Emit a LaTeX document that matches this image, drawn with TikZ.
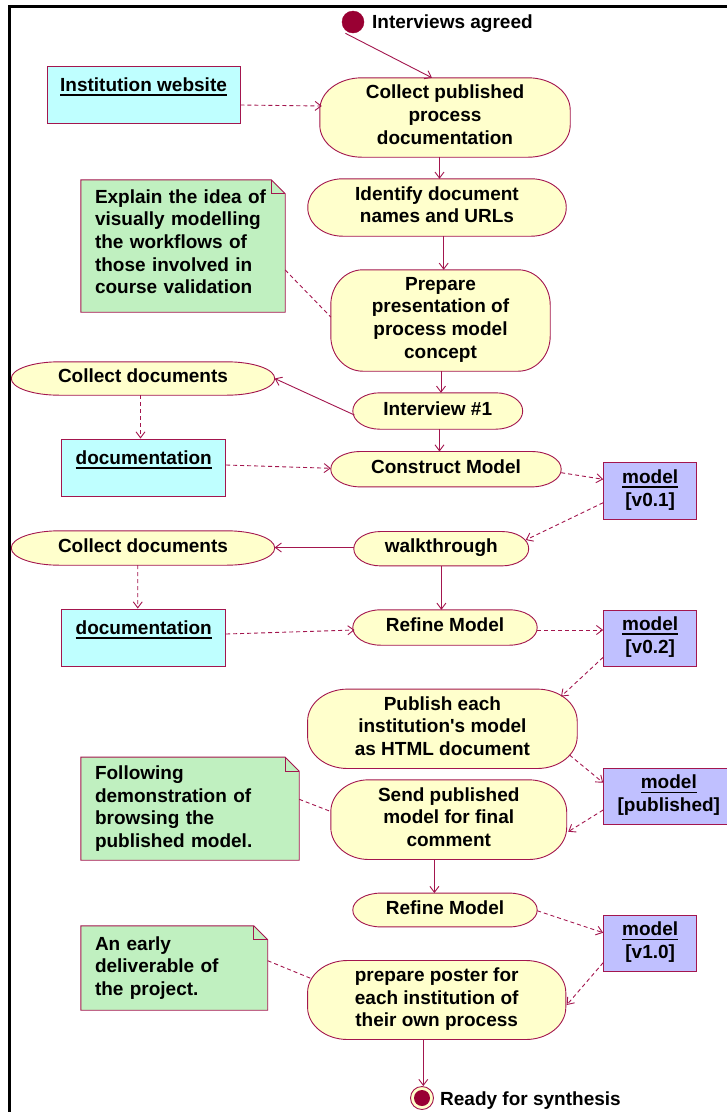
\documentclass[tikz,border=0pt]{standalone}
\usepackage{fontspec}
\setmainfont{Liberation Sans}
\usetikzlibrary{arrows.meta,backgrounds}

\definecolor{edgecol}{RGB}{163,22,78}
\definecolor{actfill}{RGB}{255,255,204}
\definecolor{objfill}{RGB}{191,255,255}
\definecolor{notefill}{RGB}{192,240,192}
\definecolor{modelfill}{RGB}{192,192,255}
\definecolor{dotfill}{RGB}{153,0,51}

% underlined object name with a heavy rule
\newcommand\ulbox[1]{\setbox0\hbox{#1}\leavevmode\rlap{\rule[-4.6pt]{\wd0}{1.9pt}}\box0}

% activity outline: rectangle with elliptical corners (node, x radius, y radius)
\newcommand\actbody[3]{%
  \filldraw[actline] ([xshift=#2pt]#1.north west) -- ([xshift=-#2pt]#1.north east)
    arc[start angle=90, end angle=0, x radius=#2pt, y radius=#3pt]
    -- ([yshift=#3pt]#1.south east)
    arc[start angle=0, end angle=-90, x radius=#2pt, y radius=#3pt]
    -- ([xshift=#2pt]#1.south west)
    arc[start angle=270, end angle=180, x radius=#2pt, y radius=#3pt]
    -- ([yshift=-#3pt]#1.north west)
    arc[start angle=180, end angle=90, x radius=#2pt, y radius=#3pt] -- cycle;}

% note outline with a folded corner (node, fold size)
\newcommand\notebody[2]{%
  \filldraw[noteline] (#1.north west) -- ([xshift=-#2pt]#1.north east)
    -- ([yshift=-#2pt]#1.north east) -- (#1.south east) -- (#1.south west) -- cycle;
  \draw[edgecol, line width=0.8pt] ([xshift=-#2pt]#1.north east)
    -- ([xshift=-#2pt,yshift=-#2pt]#1.north east) -- ([yshift=-#2pt]#1.north east);}

\tikzset{
  every node/.style={font=\fontsize{19}{22.7}\selectfont\bfseries, inner sep=0pt, text=black},
  act/.style={align=center, text depth=5.5pt},
  actline/.style={draw=edgecol, fill=actfill, line width=0.9pt},
  noteline/.style={draw=edgecol, fill=notefill, line width=0.9pt},
  notenode/.style={align=left, inner xsep=14pt},
  objbox/.style={draw=edgecol, fill=objfill, line width=0.9pt},
  objtext/.style={anchor=north, yshift=-11.5pt},
  modelbox/.style={draw=edgecol, fill=modelfill, line width=0.9pt, align=center, text depth=6pt},
  initnode/.style={circle, fill=dotfill, draw=dotfill, minimum size=22pt},
  finalnode/.style={circle, draw=edgecol, fill=actfill, line width=0.9pt, minimum size=23pt},
  flow/.style={draw=edgecol, line width=0.9pt, -{Straight Barb[length=6pt,width=9pt]}},
  dep/.style={flow, dash pattern=on 4pt off 3pt},
  tie/.style={draw=edgecol, line width=0.9pt, dash pattern=on 4pt off 3pt},
}

\begin{document}
\begin{tikzpicture}[x=1pt, y=1pt]
\begin{pgfonlayer}{background}
  \fill[white] (0,0) rectangle (727,-1112);
\end{pgfonlayer}
\useasboundingbox (0,0) rectangle (727,-1112);

% outer frame
\draw[line width=3pt, black, line join=miter] (9.5,-1120) -- (9.5,-6.3) -- (735,-6.3);

% initial state
\node[initnode] (start) at (353,-22) {};
\node[anchor=west] (startlbl) at (372,-24) {Interviews agreed};

% activities
\node[act, minimum width=250pt, minimum height=79pt] (a1) at (445,-117.5) {Collect published\\process\\documentation};
\node[act, minimum width=258pt, minimum height=57pt] (a2) at (437,-207.5) {Identify document\\names and URLs};
\node[act, minimum width=219pt, minimum height=101pt] (a3) at (440.5,-320.5) {Prepare\\presentation of\\process model\\concept};
\node[act, minimum width=263pt, minimum height=33pt] (cd1) at (143,-378.5) {Collect documents};
\node[act, minimum width=169.5pt, minimum height=36pt] (i1) at (437.75,-411) {Interview \#1};
\node[act, minimum width=230pt, minimum height=35pt] (cm) at (446,-469.2) {Construct Model};
\node[act, minimum width=174.5pt, minimum height=34pt] (wt) at (441.25,-548.7) {walkthrough};
\node[act, minimum width=263pt, minimum height=34pt] (cd2) at (143,-548) {Collect documents};
\node[act, minimum width=184pt, minimum height=35pt] (rm1) at (445,-627.5) {Refine Model};
\node[act, minimum width=269.2pt, minimum height=79pt] (pub) at (442.4,-728.8) {Publish each\\institution\textquotesingle s model\\as HTML document};
\node[act, minimum width=235.5pt, minimum height=79.3pt] (send) at (448.75,-819.65) {Send published\\model for final\\comment};
\node[act, minimum width=184pt, minimum height=33.4pt] (rm2) at (445,-910) {Refine Model};
\node[act, minimum width=257.8pt, minimum height=78.6pt] (pp) at (436.7,-1000) {prepare poster for\\each institution of\\their own process};

\begin{pgfonlayer}{background}
  \actbody{a1}{42}{32}
  \actbody{a2}{35}{28}
  \actbody{a3}{32}{35}
  \actbody{cd1}{48}{16.5}
  \actbody{i1}{27}{18}
  \actbody{cm}{30}{17.5}
  \actbody{wt}{27}{17}
  \actbody{cd2}{48}{17}
  \actbody{rm1}{28}{17.5}
  \actbody{pub}{40}{32}
  \actbody{send}{38}{32}
  \actbody{rm2}{28}{16.7}
  \actbody{pp}{40}{32}
\end{pgfonlayer}

% notes
\node[notenode, minimum height=132pt, text width=176pt] (n1) at (183,-246) {Explain the idea of\\visually modelling\\the workflows of\\those involved in\\course validation\\[-14pt]\mbox{}};
\node[notenode, minimum height=102.7pt, text width=190pt] (n2) at (190,-808.65) {Following\\demonstration of\\browsing the\\published model.};
\node[notenode, minimum height=84pt, text width=158.5pt] (n3) at (174.25,-968) {An early\\deliverable of\\the project.};

\begin{pgfonlayer}{background}
  \notebody{n1}{14}
  \notebody{n2}{14}
  \notebody{n3}{14}
\end{pgfonlayer}

% object flows
\node[objbox, minimum width=193pt, minimum height=57pt, label={[objtext]north:\ulbox{Institution website}}] (web) at (143.5,-94.5) {};
\node[objbox, minimum width=164pt, minimum height=57pt, label={[objtext]north:\ulbox{documentation}}] (doc1) at (143.75,-467.5) {};
\node[objbox, minimum width=164pt, minimum height=57pt, label={[objtext]north:\ulbox{documentation}}] (doc2) at (143.75,-637.5) {};
\node[modelbox, minimum width=93.2pt, minimum height=56.3pt] (v01) at (650.2,-490.85) {\ulbox{model}\\{[v0.1]}};
\node[modelbox, minimum width=93.2pt, minimum height=56.5pt] (v02) at (650.2,-638.25) {\ulbox{model}\\{[v0.2]}};
\node[modelbox, minimum width=130.4pt, minimum height=56pt] (mp) at (668.8,-796.3) {\ulbox{model}\\{[published]}};
\node[modelbox, minimum width=93.2pt, minimum height=56.7pt] (v10) at (650.2,-943.35) {\ulbox{model}\\{[v1.0]}};

% final state
\node[finalnode] (end) at (422,-1098) {};
\fill[dotfill] (end.center) circle[radius=8pt];
\node[anchor=west] (endlbl) at (440,-1101) {Ready for synthesis};

% control flow
\draw[flow] ([xshift=-7.6pt,yshift=-11.3pt]start.center) -- ([xshift=-13pt]a1.north);
\draw[flow] ([xshift=-5.5pt]a1.south) -- ([xshift=2.5pt]a2.north);
\draw[flow] ([xshift=6.7pt]a2.south) -- ([xshift=3.2pt]a3.north);
\draw[flow] ([xshift=0.5pt]a3.south) -- ([xshift=3.25pt]i1.north);
\draw[flow] ([xshift=1.6pt,yshift=-4pt]i1.west) -- (cd1.east);
\draw[flow] ([xshift=1.75pt]i1.south) -- ([xshift=-6.5pt]cm.north);
\draw[flow] ([yshift=1.2pt]wt.west) -- ([yshift=0.5pt]cd2.east);
\draw[flow] ([xshift=0.15pt]wt.south) -- ([xshift=-3.6pt]rm1.north);
\draw[flow] ([xshift=-14.35pt]send.south) -- ([xshift=-10.6pt]rm2.north);
\draw[flow] ([xshift=-13.4pt]pp.south) -- ([xshift=1.3pt]end.north);

% object flow
\draw[dep] ([yshift=-10.5pt]web.east) -- ([xshift=2pt,yshift=11.5pt]a1.west);
\draw[dep] ([xshift=-2.5pt]cd1.south) -- ([xshift=-3.25pt]doc1.north);
\draw[dep] ([yshift=2.5pt]doc1.east) -- ([yshift=0.9pt]cm.west);
\draw[dep] ([yshift=-3.5pt]cm.east) -- ([yshift=11.55pt]v01.west);
\draw[dep] ([yshift=-11.85pt]v01.west) -- ([xshift=-3pt,yshift=8.7pt]wt.east);
\draw[dep] ([xshift=-5.3pt]cd2.south) -- ([xshift=-6pt]doc2.north);
\draw[dep] ([yshift=3.5pt]doc2.east) -- ([xshift=1.7pt,yshift=-2.5pt]rm1.west);
\draw[dep] ([yshift=-2.5pt]rm1.east) -- ([yshift=8.25pt]v02.west);
\draw[dep] ([yshift=-19.05pt]v02.west) -- ([xshift=118.6pt,yshift=-7.4pt]pub.north);
\draw[dep] ([xshift=-7.7pt,yshift=-26.2pt]pub.east) -- ([yshift=13.6pt]mp.west);
\draw[dep] ([yshift=-13.7pt]mp.west) -- ([xshift=1.5pt,yshift=-12.05pt]send.east);
\draw[dep] ([yshift=-0.7pt]rm2.east) -- ([yshift=10.65pt]v10.west);
\draw[dep] ([yshift=-19.35pt]v10.west) -- ([xshift=0.9pt,yshift=-5pt]pp.east);

% note anchors
\draw[tie] ([yshift=-24pt]n1.east) -- ([yshift=3.5pt]a3.west);
\draw[tie] ([yshift=9.35pt]n2.east) -- ([xshift=0.5pt,yshift=7.95pt]send.west);
\draw[tie] ([yshift=7.3pt]n3.east) -- ([xshift=3pt,yshift=21.7pt]pp.west);
\end{tikzpicture}
\end{document}
